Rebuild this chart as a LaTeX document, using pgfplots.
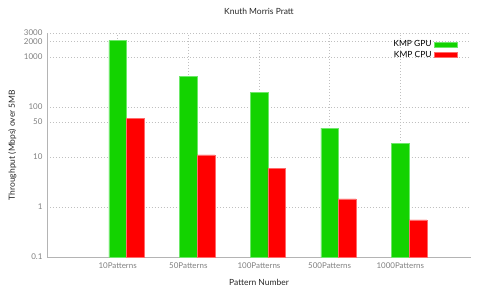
\documentclass[border=0pt]{standalone}
\usepackage{pgfplots}
\pgfplotsset{compat=1.18}
\usepackage{fontspec}
\setmainfont{Lato}
\definecolor{gpugreen}{HTML}{13D300}
\definecolor{gpuedge}{HTML}{6EE86A}
\definecolor{cpured}{HTML}{FF0000}
\definecolor{cpuedge}{HTML}{FF6A6A}
\definecolor{tickgray}{HTML}{808080}
\definecolor{gridgray}{HTML}{C0C0C0}
\definecolor{axisgray}{HTML}{B4B4B4}
\begin{document}
\begin{tikzpicture}
\begin{axis}[
  scale only axis,
  width=424bp, height=224bp,
  ymode=log, log origin=infty,
  ymin=0.1, ymax=3000,
  xmin=-1, xmax=5,
  axis lines*=left,
  axis line style={draw=axisgray, line width=0.6pt, -},
  major tick length=0pt, minor tick length=0pt,
  ytick={0.1,1,10,50,100,1000,2000,3000},
  yticklabels={0.1,1,10,50,100,1000,2000,3000},
  minor ytick={},
  xtick={0,1,2,3,4},
  xticklabels={10Patterns,50Patterns,100Patterns,500Patterns,1000Patterns},
  /pgf/number format/assume math mode=true,
  tick label style={font=\fontsize{8}{9}\selectfont, text=tickgray},
  yticklabel style={xshift=-1bp},
  xticklabel style={yshift=-2bp},
  grid=major,
  major grid style={draw=gridgray, dash pattern=on 0.7pt off 2.3pt, line width=0.7pt},
  title={Knuth Morris Pratt},
  title style={font=\fontsize{8.5}{10}\selectfont, text=black!85, at={(0.5,1)}, anchor=south, yshift=9bp},
  xlabel={Pattern Number},
  ylabel={Throughput (Mbps) over 5MB},
  label style={font=\fontsize{8.5}{10}\selectfont, text=black!85},
  xlabel style={at={(0.5,0)}, anchor=north, yshift=-19bp},
  ylabel style={at={(0,0.5)}, anchor=south, yshift=27bp},
  legend style={draw=none, fill=none, at={(0.975,0.985)}, anchor=north east,
    font=\fontsize{8.5}{10}\selectfont, row sep=-1bp},
  legend cell align=right,
  legend plot pos=right,
  legend image code/.code={\path[#1, line width=0.6pt] (0bp,-2.5bp) rectangle (23bp,2.5bp);},
]
\addplot[ybar, bar width=17.7bp, bar shift=0pt, fill=gpugreen, draw=gpuedge, line width=0.6pt]
  coordinates {(0,2100) (1,400) (2,194) (3,37.5) (4,18.7)};
\addlegendentry{KMP GPU}
\addplot[ybar, bar width=17.7bp, bar shift=0pt, fill=cpured, draw=cpuedge, line width=0.6pt]
  coordinates {(0.25,60) (1.25,11) (2.25,6) (3.25,1.45) (4.25,0.55)};
\addlegendentry{KMP CPU}
\end{axis}
\pgfresetboundingbox
\path[use as bounding box] ([shift={(-47bp,-34bp)}]current axis.south west) rectangle ([shift={(14bp,33bp)}]current axis.north east);
\end{tikzpicture}
\end{document}
